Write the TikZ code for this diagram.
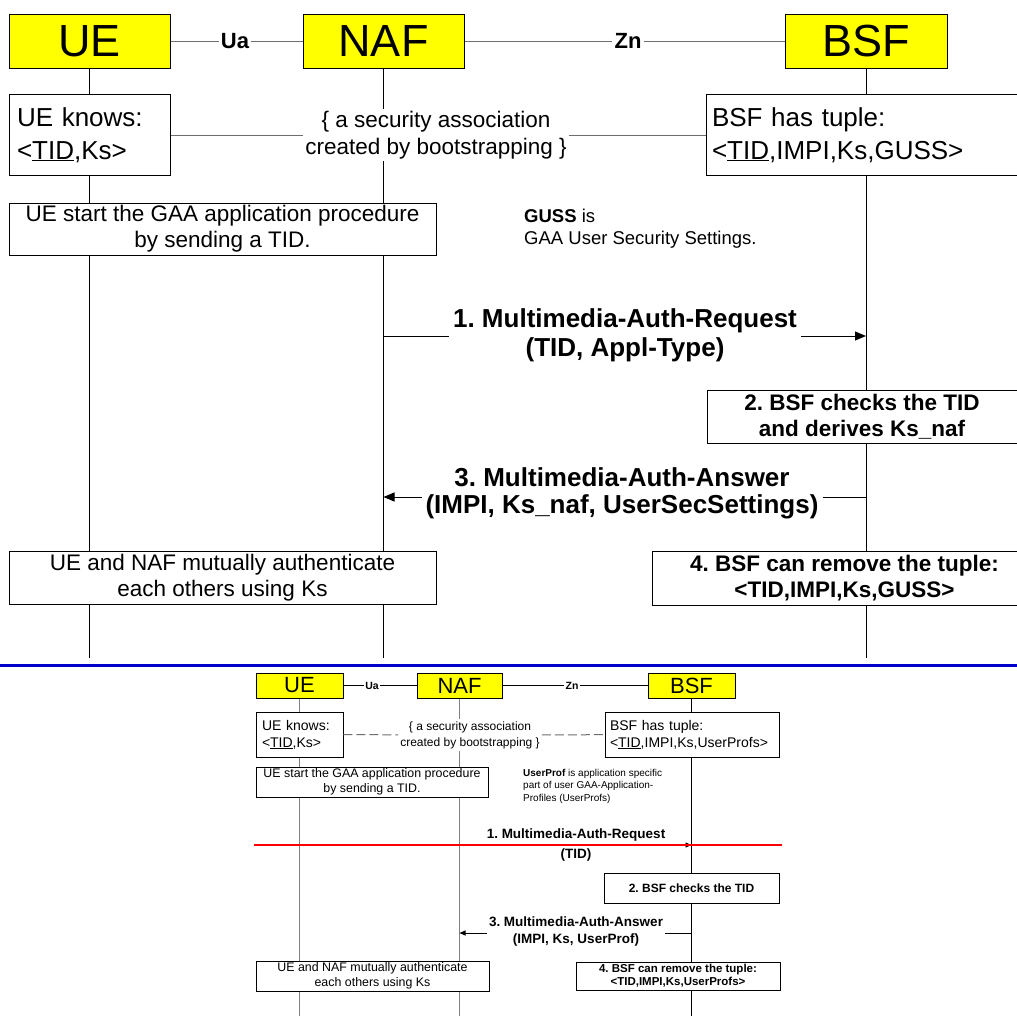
\documentclass[tikz,border=0pt]{standalone}
\usepackage{fontspec}
\setmainfont{Liberation Sans}
\usetikzlibrary{arrows.meta}
\pgfdeclarelayer{bg}
\pgfsetlayers{bg,main}
\definecolor{hdryellow}{RGB}{255,255,0}
\definecolor{sepblue}{RGB}{0,0,205}
\definecolor{lifegray}{RGB}{128,128,128}
\definecolor{linkgray}{RGB}{110,110,110}
\newcommand{\fsz}[2]{\fontsize{#1}{#2}\selectfont}
\tikzset{
  hdr/.style={draw, line width=1pt, fill=hdryellow, inner sep=0pt},
  bx/.style={draw, line width=1pt, fill=white, inner sep=0pt, align=center},
  bxs/.style={bx, line width=0.7pt},
  life/.style={line width=1pt},
  lifeg/.style={draw=lifegray, line width=1.5pt},
  link/.style={draw=linkgray, line width=1pt},
  dashlink/.style={draw=linkgray, line width=1pt, dash pattern=on 9pt off 4pt},
  msg/.style={line width=1pt, -{Triangle[length=11pt,width=9pt]}},
  msgs/.style={line width=0.7pt, -{Triangle[length=6pt,width=5pt]}},
  lbl/.style={inner sep=2pt, font=\bfseries\fsz{22}{22}},
  lbls/.style={inner sep=1.5pt, font=\bfseries\fsz{10.5}{10.5}},
  msgtxt/.style={fill=white, align=center}
}
\begin{document}
\frenchspacing
\begin{tikzpicture}[x=1pt,y=-1pt]
\useasboundingbox (0,0) rectangle (1017,1015);
\clip (0,0) rectangle (1017,1015);

% ---------------- top diagram ----------------
\node[hdr, minimum width=161pt, minimum height=54pt, font=\fsz{45}{45}] (UE) at (89.5,41) {UE};
\node[hdr, minimum width=161pt, minimum height=54pt, font=\fsz{45}{45}] (NAF) at (383.5,41) {NAF};
\node[hdr, minimum width=162pt, minimum height=54pt, font=\fsz{45}{45}] (BSF) at (866,41) {BSF};
\node[lbl] (ua) at (235,41) {Ua};
\node[lbl] (zn) at (628,41) {Zn};
\draw[link] (UE) -- (ua);
\draw[link] (ua) -- (NAF);
\draw[link] (NAF) -- (zn);
\draw[link] (zn) -- (BSF);

\coordinate (UEend) at (89.5,658);
\coordinate (NAFend) at (383.5,658);
\coordinate (BSFend) at (866,658);
\begin{pgfonlayer}{bg}
\fill[white] (0,0) rectangle (1017,1015);
\draw[life] (UE.south) -- (UEend);
\draw[life] (NAF.south) -- (NAFend);
\draw[life] (BSF.south) -- (BSFend);
\end{pgfonlayer}

\node[bx, minimum width=161pt, minimum height=81pt, text width=145pt, align=left, font=\fsz{26}{33}] (uek) at (89.5,135) {UE knows:\\<\underline{TID},Ks>};
\node[msgtxt, inner sep=2pt, font=\fsz{22.5}{27}] (sa) at (436,135) {\{ a security association\\created by bootstrapping \}};
\node[bx, minimum width=314pt, minimum height=81pt, text width=302pt, align=left, font=\fsz{26}{33}] (bsft) at (863,135) {BSF has tuple:\\<\underline{TID},IMPI,Ks,GUSS>};
\draw[link] (uek) -- (sa);
\draw[link] (sa) -- (bsft);

\node[bx, minimum width=427pt, minimum height=52pt, font=\fsz{22.5}{26}] (start) at (222.5,229) {UE start the GAA application procedure\\by sending a TID.};
\node[anchor=west, align=left, inner sep=0pt, font=\fsz{18.5}{22}] (guss) at (524,229) {\textbf{GUSS} is\\GAA User Security Settings.};

\coordinate (m1a) at (383.5,336);
\coordinate (m1b) at (866,336);
\draw[msg] (m1a) -- (m1b);
\node[msgtxt, inner sep=4pt, font=\bfseries\fsz{26}{29}] (m1) at (625,335.5) {1. Multimedia-Auth-Request\\(TID, Appl-Type)};

\node[bx, minimum width=310pt, minimum height=53pt, font=\bfseries\fsz{22.5}{26}] (chk) at (862,416.5) {2. BSF checks the TID\\and derives Ks\_naf};

\coordinate (m3a) at (866,497);
\coordinate (m3b) at (383.5,497);
\draw[msg] (m3a) -- (m3b);
\node[msgtxt, inner sep=4pt, font=\bfseries\fsz{26}{27}] (m3) at (622,493.5) {3. Multimedia-Auth-Answer\\(IMPI, Ks\_naf, UserSecSettings)};

\node[bx, minimum width=427pt, minimum height=53pt, font=\fsz{22.5}{26}] (mut) at (222.5,577.5) {UE and NAF mutually authenticate\\each others using Ks};
\node[bx, minimum width=385pt, minimum height=54pt, font=\bfseries\fsz{22.5}{26}] (rm) at (844.5,578.5) {4. BSF can remove the tuple:\\<TID,IMPI,Ks,GUSS>};

% separator
\coordinate (sepL) at (0,665);
\coordinate (sepR) at (1017,665);
\draw[sepblue, line width=3pt] (sepL) -- (sepR);

% ---------------- bottom diagram ----------------
\node[hdr, line width=0.7pt, minimum width=87pt, minimum height=25pt, font=\fsz{22}{22}] (UEb) at (299.5,685.5) {UE};
\node[hdr, line width=0.7pt, minimum width=85pt, minimum height=25pt, font=\fsz{22}{22}] (NAFb) at (459.5,685.5) {NAF};
\node[hdr, line width=0.7pt, minimum width=87pt, minimum height=25pt, font=\fsz{22}{22}] (BSFb) at (691.5,685.5) {BSF};
\node[lbls] (uab) at (372,685.5) {Ua};
\node[lbls] (znb) at (572,685.5) {Zn};
\draw[line width=0.8pt] (UEb) -- (uab);
\draw[line width=0.8pt] (uab) -- (NAFb);
\draw[line width=0.8pt] (NAFb) -- (znb);
\draw[line width=0.8pt] (znb) -- (BSFb);

\coordinate (UEbend) at (299.5,1016);
\coordinate (NAFbend) at (459.5,1016);
\coordinate (BSFbend) at (691.5,1016);
\begin{pgfonlayer}{bg}
\draw[lifeg] (UEb.south) -- (UEbend);
\draw[lifeg] (NAFb.south) -- (NAFbend);
\draw[line width=0.7pt] (BSFb.south) -- (BSFbend);
\end{pgfonlayer}

\node[bxs, minimum width=87pt, minimum height=45pt, text width=75pt, align=left, font=\fsz{14}{17}] (uekb) at (299.5,734.5) {UE knows:\\<\underline{TID},Ks>};
\node[msgtxt, inner sep=2pt, font=\fsz{12}{16}] (sab) at (470,735) {\{ a security association\\created by bootstrapping \}};
\node[bxs, minimum width=174pt, minimum height=45pt, text width=164pt, align=left, font=\fsz{14}{17}] (bsftb) at (692,734.5) {BSF has tuple:\\<\underline{TID},IMPI,Ks,UserProfs>};
\draw[dashlink] (uekb) -- (sab);
\draw[dashlink] (sab) -- (bsftb);

\node[bxs, minimum width=232pt, minimum height=30pt, font=\fsz{12.4}{14.5}] (startb) at (372,782) {UE start the GAA application procedure\\by sending a TID.};
\node[anchor=west, align=left, inner sep=0pt, font=\fsz{10}{12.5}] (up) at (523,786) {\textbf{UserProf} is application specific\\part of user GAA-Application-\\Profiles (UserProfs)};

\coordinate (b1a) at (459.5,845);
\coordinate (b1b) at (691.5,845);
\draw[msgs] (b1a) -- (b1b);
\node[msgtxt, inner sep=2pt, font=\bfseries\fsz{13.5}{20}] (b1) at (576,845) {1. Multimedia-Auth-Request\\(TID)};
\coordinate (redL) at (254,845);
\coordinate (redR) at (782,845);
\draw[red, line width=2pt] (redL) -- (redR);

\node[bxs, minimum width=175pt, minimum height=30pt, font=\bfseries\fsz{12}{13}] (chkb) at (691.5,888) {2. BSF checks the TID};

\coordinate (b3a) at (691.5,933);
\coordinate (b3b) at (459.5,933);
\draw[msgs] (b3a) -- (b3b);
\node[msgtxt, inner sep=2pt, font=\bfseries\fsz{13.5}{17}] (b3) at (576,931.5) {3. Multimedia-Auth-Answer\\(IMPI, Ks, UserProf)};

\node[bxs, minimum width=233pt, minimum height=30pt, font=\fsz{12.4}{15}] (mutb) at (372.5,976) {UE and NAF mutually authenticate\\each others using Ks};
\node[bxs, minimum width=204pt, minimum height=28pt, font=\bfseries\fsz{11.5}{13}] (rmb) at (678,976) {4. BSF can remove the tuple:\\<TID,IMPI,Ks,UserProfs>};
\end{tikzpicture}
\end{document}
